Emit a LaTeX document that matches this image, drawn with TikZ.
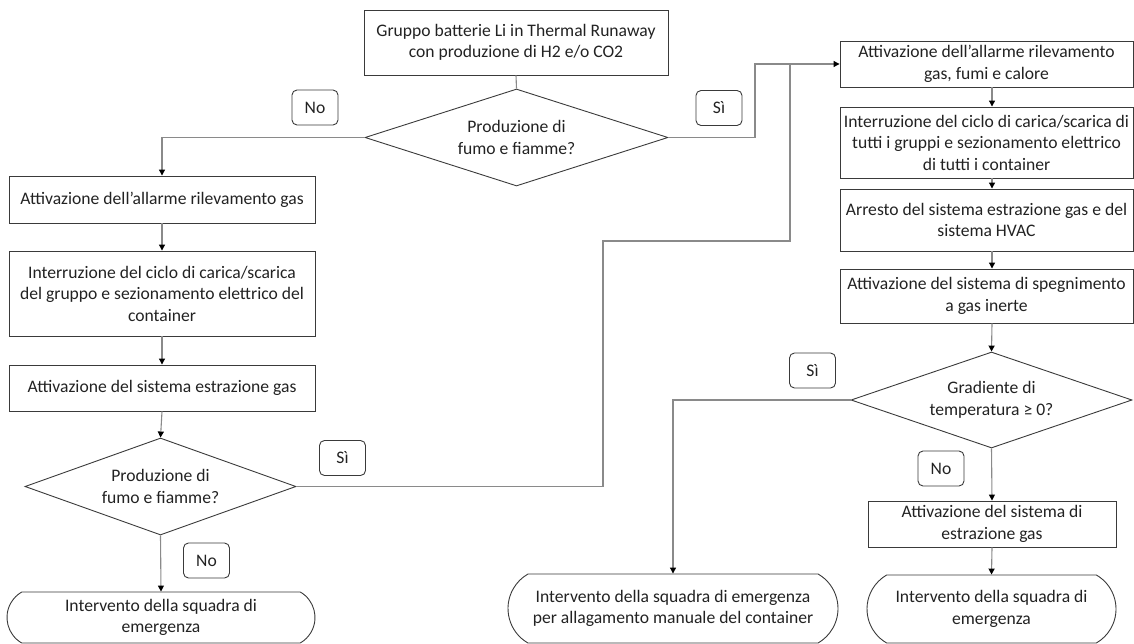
\documentclass[tikz,border=0pt]{standalone}
\usepackage{fontspec}
\setmainfont{Carlito}
\usetikzlibrary{arrows.meta,shapes.geometric,shapes.misc}
\definecolor{boxc}{HTML}{3A3A3A}
\definecolor{linec}{HTML}{8A8A8A}
\definecolor{txt}{HTML}{222222}
\newcommand{\fs}{\fontsize{17.6}{21.5}\selectfont}
\begin{document}
\begin{tikzpicture}[x=1pt,y=-1pt,
  box/.style={draw=boxc, line width=0.9pt, align=center, inner sep=0pt, text=txt, font=\fs},
  dia/.style={diamond, aspect=3, draw=boxc, line width=0.9pt, align=center, inner sep=0pt, text=txt, font=\fs},
  term/.style={rounded rectangle, rounded rectangle arc length=120, draw=boxc, line width=0.9pt, align=center, inner sep=0pt, text=txt, font=\fs},
  lab/.style={draw=boxc, line width=0.9pt, rounded corners=5pt, minimum width=46pt, minimum height=35pt, inner sep=0pt, text=txt, font=\fs},
  conn/.style={draw=linec, line width=1.1pt},
  arr/.style={conn, -{Triangle[width=6pt,length=6pt,fill=black,color=black]}}
]
\useasboundingbox (0,0) rectangle (1134,644);

% top
\node[box, minimum width=304pt, minimum height=65pt] (t) at (516,42.5) {Gruppo batterie Li in Thermal Runaway\\con produzione di H2 e/o CO2};
\node[dia, minimum width=303pt, minimum height=97pt] (d1) at (516.5,137.5) {Produzione di\\fumo e fiamme?};

% left column
\node[box, minimum width=306pt, minimum height=47pt] (l1) at (162,199.5) {Attivazione dell’allarme rilevamento gas};
\node[box, minimum width=306pt, minimum height=85pt] (l2) at (162,293.5) {Interruzione del ciclo di carica/scarica\\del gruppo e sezionamento elettrico del\\container};
\node[box, minimum width=306pt, minimum height=46pt] (l3) at (162,388) {Attivazione del sistema estrazione gas};
\node[dia, minimum width=271pt, minimum height=97pt] (d2) at (160.5,486.5) {Produzione di\\fumo e fiamme?};
\node[term, minimum width=308pt, minimum height=51pt] (lt) at (161,617.5) {Intervento della squadra di\\emergenza};

% right column
\node[box, minimum width=293pt, minimum height=46pt] (r1) at (986.5,64) {Attivazione dell’allarme rilevamento\\gas, fumi e calore};
\node[box, minimum width=293pt, minimum height=71pt] (r2) at (986.5,142.5) {Interruzione del ciclo di carica/scarica di\\tutti i gruppi e sezionamento elettrico\\di tutti i container};
\node[box, minimum width=293pt, minimum height=62pt] (r3) at (986.5,220) {Arresto del sistema estrazione gas e del\\sistema HVAC};
\node[box, minimum width=293pt, minimum height=54pt] (r4) at (986.5,296) {Attivazione del sistema di spegnimento\\a gas inerte};
\node[dia, minimum width=281pt, minimum height=96pt] (d3) at (991.5,400) {Gradiente di\\temperatura ≥ 0?};
\node[box, minimum width=248pt, minimum height=46pt] (r5) at (992,524) {Attivazione del sistema di\\estrazione gas};
\node[term, minimum width=249pt, minimum height=68pt] (rt) at (991.5,609) {Intervento della squadra di\\emergenza};
\node[term, minimum width=330pt, minimum height=69pt] (mt) at (673,608.5) {Intervento della squadra di emergenza\\per allagamento manuale del container};

% labels
\node[lab] (no1) at (315,107.5) {No};
\node[lab] (si1) at (719,108) {Sì};
\node[lab] (si2) at (342.5,458) {Sì};
\node[lab] (no2) at (206.5,560.5) {No};
\node[lab] (si3) at (812.5,370.5) {Sì};
\node[lab] (no3) at (941,468.5) {No};

% junction coordinates
\coordinate (rc) at (992,0);
\coordinate (j1) at (603,241);
\coordinate (j2) at (790,241);
\coordinate (j3) at (755,137.5);

% connectors
\draw[conn] (t.south) -- (d1.north);
\draw[arr] (d1.west) -| (l1.north);
\draw[arr] (l1.south) -- (l2.north);
\draw[arr] (l2.south) -- (l3.north);
\draw[arr] (l3.south) -- (d2.north);
\draw[arr] (d2.south) -- (lt.north);
\draw[conn] (d2.east) -| (j1) -- (j2) -- (j2 |- r1.west);
\draw[arr] (d1.east) -- (j3) |- (r1.west);
\draw[arr] (r1.south -| rc) -- (r2.north -| rc);
\draw[arr] (r2.south -| rc) -- (r3.north -| rc);
\draw[arr] (r3.south -| rc) -- (r4.north -| rc);
\draw[arr] (r4.south -| rc) -- (d3.north);
\draw[arr] (d3.west) -| (mt.north);
\draw[arr] (d3.south) -- (r5.north);
\draw[arr] (r5.south) -- (rt.north);
\end{tikzpicture}
\end{document}
